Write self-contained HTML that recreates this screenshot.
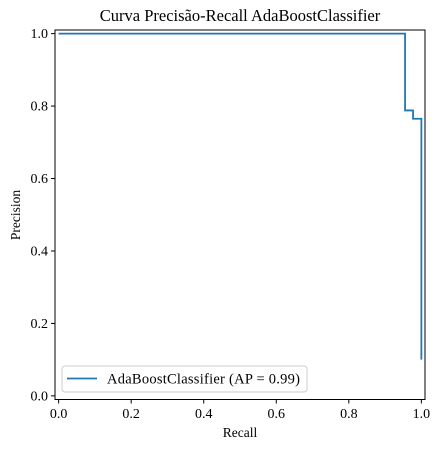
<!DOCTYPE html>
<html><head><meta charset="utf-8"><style>
body{margin:0;background:#fff}
svg text{font-family:"Liberation Serif",serif;fill:#000}
</style></head><body>
<svg width="440" height="449" viewBox="0 0 440 449" xmlns="http://www.w3.org/2000/svg">
<text x="240" y="21" text-anchor="middle" font-size="16.5">Curva Precisão-Recall AdaBoostClassifier</text>
<g id="ticks"></g>
<path id="curve" fill="none" stroke="#1f77b4" stroke-width="1.8"/>
<rect x="55" y="30" width="370" height="369.5" fill="none" stroke="#000" stroke-width="1"/>
<text x="240" y="437" text-anchor="middle" font-size="13.5">Recall</text>
<text x="0" y="0" text-anchor="middle" font-size="13.5" transform="translate(20,215) rotate(-90)">Precision</text>
<g>
<rect x="62" y="366" width="245" height="26" rx="3" fill="#fff" fill-opacity="0.8" stroke="#ccc"/>
<line x1="67" y1="378.5" x2="97" y2="378.5" stroke="#1f77b4" stroke-width="1.8"/>
<text x="107" y="383.5" font-size="14.5" textLength="193">AdaBoostClassifier (AP = 0.99)</text>
</g>
</svg>
<script>
const recall=[0,0.955,0.977,1.0];
const precision=[1.0,0.788,0.765,0.1];
const xTicks=[0,0.2,0.4,0.6,0.8,1.0];
const yTicks=[0,0.2,0.4,0.6,0.8,1.0];
const X=v=>55+(v+0.01)/1.02*370;
const Y=v=>399.5-(v+0.01)/1.02*369.5;
const ns="http://www.w3.org/2000/svg";
let d="M"+X(recall[0])+","+Y(precision[0]);
for(let i=1;i<recall.length;i++){d+=" H"+X(recall[i])+" V"+Y(precision[i]);}
document.getElementById('curve').setAttribute('d',d);
const g=document.getElementById('ticks');
xTicks.forEach(t=>{
 const l=document.createElementNS(ns,'line');
 l.setAttribute('x1',X(t));l.setAttribute('x2',X(t));l.setAttribute('y1',399.5);l.setAttribute('y2',403.5);l.setAttribute('stroke','#000');
 
 
 g.appendChild(l);
 const tx=document.createElementNS(ns,'text');
 tx.setAttribute('x',X(t));tx.setAttribute('y',418);tx.setAttribute('text-anchor','middle');tx.setAttribute('font-size','14');
 tx.textContent=t.toFixed(1);
 
 
 g.appendChild(tx);
});
yTicks.forEach(t=>{
 const l=document.createElementNS(ns,'line');
 l.setAttribute('x1',51);l.setAttribute('x2',55);l.setAttribute('y1',Y(t));l.setAttribute('y2',Y(t));l.setAttribute('stroke','#000');
 
 
 g.appendChild(l);
 const tx=document.createElementNS(ns,'text');
 tx.setAttribute('x',48);tx.setAttribute('y',Y(t)+4.5);tx.setAttribute('text-anchor','end');tx.setAttribute('font-size','14');
 tx.textContent=t.toFixed(1);
 
 
 g.appendChild(tx);
});
</script>
</body></html>
